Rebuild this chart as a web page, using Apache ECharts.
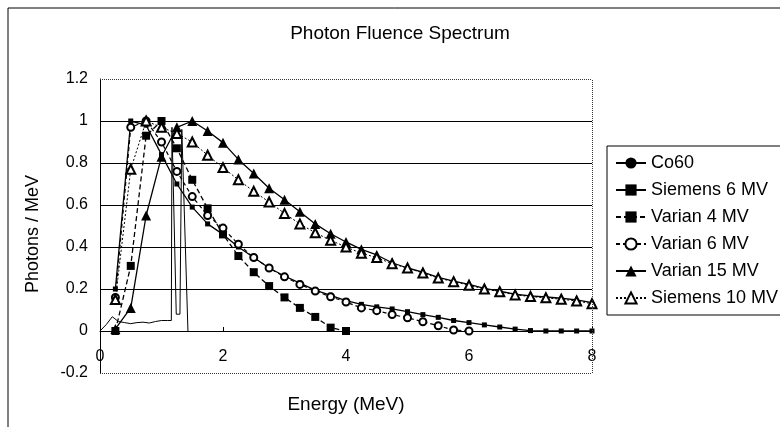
<!DOCTYPE html>
<html>
<head>
<meta charset="utf-8">
<script src="https://cdn.jsdelivr.net/npm/echarts@6/dist/echarts.min.js"></script>
<style>
html,body{margin:0;padding:0;background:#fff;}
#chart{width:780px;height:427px;}
</style>
</head>
<body>
<div id="chart"></div>
<script>
// ---- data ----
const energy = [0.25,0.5,0.75,1,1.25,1.5,1.75,2,2.25,2.5,2.75,3,3.25,3.5,3.75,4,4.25,4.5,4.75,5,5.25,5.5,5.75,6,6.25,6.5,6.75,7,7.25,7.5,7.75,8];
const co60Energy = [0,0.1,0.2,0.3,0.4,0.5,0.6,0.7,0.8,0.9,1.0,1.1,1.16,1.17,1.2,1.24,1.3,1.33,1.36,1.43];
const co60 = [0,0.03,0.068,0.045,0.04,0.035,0.04,0.042,0.038,0.045,0.05,0.05,0.05,0.97,0.97,0.08,0.08,0.96,0.96,0];
const siemens6 = [0.20,1.00,0.98,0.84,0.70,0.59,0.51,0.46,0.40,0.35,0.30,0.262,0.228,0.195,0.17,0.145,0.127,0.115,0.105,0.092,0.078,0.065,0.05,0.04,0.029,0.019,0.009,0.002,0,0,0,0];
const varian4 = [0,0.31,0.93,1.0,0.87,0.72,0.584,0.46,0.357,0.28,0.214,0.16,0.11,0.067,0.016,0];
const varian6 = [0.16,0.97,1.0,0.90,0.76,0.64,0.55,0.49,0.413,0.35,0.30,0.258,0.222,0.19,0.163,0.138,0.11,0.097,0.078,0.063,0.044,0.025,0.005,0];
const varian15 = [0.01,0.11,0.55,0.83,0.97,1.0,0.952,0.897,0.817,0.75,0.68,0.625,0.568,0.51,0.463,0.424,0.389,0.362,0.325,0.30,0.28,0.255,0.238,0.222,0.203,0.19,0.175,0.167,0.162,0.156,0.148,0.135];
const siemens10 = [0.15,0.77,1.0,0.97,0.94,0.90,0.837,0.778,0.72,0.665,0.614,0.56,0.51,0.468,0.432,0.40,0.37,0.35,0.32,0.30,0.276,0.252,0.235,0.218,0.2,0.187,0.172,0.164,0.158,0.151,0.143,0.13];
const seriesNames = ['Co60','Siemens 6 MV','Varian 4 MV','Varian 6 MV','Varian 15 MV','Siemens 10 MV'];
const xTicks = {min:0, max:8, step:2};
const yTicks = {min:-0.2, max:1.2, step:0.2};
const titleText = 'Photon Fluence Spectrum';
const xName = 'Energy (MeV)';
const yName = 'Photons / MeV';

function pairs(xs, ys){ return ys.map((v,i)=>[xs[i], v]); }

const FONT = 'Liberation Sans';
const chart = echarts.init(document.getElementById('chart'), null, {renderer:'canvas'});

const common = {type:'line', color:'#000', animation:false, smooth:false, xAxisIndex:0, yAxisIndex:0};
const option = {
  backgroundColor:'#fff',
  animation:false,
  textStyle:{fontFamily:FONT, color:'#000'},
  title:{text:titleText, left:395, textAlign:'center', top:19,
    textStyle:{fontFamily:FONT, fontSize:19, fontWeight:'normal', color:'#000'}},
  grid:{left:100, right:188, top:79, bottom:54, containLabel:false},
  legend:{
    orient:'vertical', left:607, top:146,
    padding:[8,10,8,8], itemGap:9, itemWidth:30, itemHeight:14,
    borderColor:'#000', borderWidth:1, backgroundColor:'#fff',
    textStyle:{fontFamily:FONT, fontSize:18, color:'#000', lineHeight:17},
    data:seriesNames
  },
  graphic:[{type:'rect', shape:{x:8,y:8,width:800,height:440}, style:{fill:'none', stroke:'#000', lineWidth:1}, silent:true, z:-1}],
  xAxis:[
    {type:'value', min:xTicks.min, max:xTicks.max, interval:xTicks.step, position:'bottom',
    name:xName, nameLocation:'middle', nameGap:22,
    nameTextStyle:{fontFamily:FONT, fontSize:19, color:'#000'},
    axisLine:{show:false, onZero:false},
    axisTick:{show:false},
    axisLabel:{margin:-24, fontFamily:FONT, fontSize:16, color:'#000'},
    splitLine:{show:false}},
    {type:'value', min:xTicks.min, max:xTicks.max, interval:xTicks.step, position:'top',
    axisLine:{show:true, onZero:true, lineStyle:{color:'#000', width:1}},
    axisTick:{show:true, inside:false, length:4, lineStyle:{color:'#000'}},
    axisLabel:{show:false},
    splitLine:{show:false}}
  ],
  yAxis:{type:'value', min:yTicks.min, max:yTicks.max, interval:yTicks.step,
    name:yName, nameLocation:'middle', nameRotate:90, nameGap:58,
    nameTextStyle:{fontFamily:FONT, fontSize:18, color:'#000', padding:[0,16,0,0]},
    axisLine:{show:true, onZero:false, lineStyle:{color:'#000', width:1}},
    axisTick:{show:false},
    axisLabel:{margin:12, fontFamily:FONT, fontSize:16, color:'#000'},
    splitLine:{show:true, showMinLine:false, showMaxLine:false, lineStyle:{color:'#000', width:1}}},
  series:[
    Object.assign({}, common, {name:seriesNames[0], data:pairs(co60Energy, co60), showSymbol:false, symbol:'none',
      lineStyle:{color:'#000', width:1},
      markLine:{silent:true, symbol:'none', label:{show:false}, animation:false,
        lineStyle:{color:'#333', type:'dotted', width:1},
        data:[{yAxis:yTicks.min},{yAxis:yTicks.max},{xAxis:xTicks.max}]}}),
    Object.assign({}, common, {name:seriesNames[1], data:pairs(energy, siemens6), symbol:'rect', symbolSize:5,
      itemStyle:{color:'#000'}, lineStyle:{color:'#000', width:1.3}}),
    Object.assign({}, common, {name:seriesNames[2], data:pairs(energy, varian4), symbol:'rect', symbolSize:8,
      itemStyle:{color:'#000'}, lineStyle:{color:'#000', width:1.3, type:[5,3]}}),
    Object.assign({}, common, {name:seriesNames[3], data:pairs(energy, varian6), symbol:'emptyCircle', symbolSize:7,
      itemStyle:{color:'#000', borderWidth:1.2}, lineStyle:{color:'#000', width:1.2, type:[4,3]}}),
    Object.assign({}, common, {name:seriesNames[4], data:pairs(energy, varian15), symbol:'triangle', symbolSize:10,
      itemStyle:{color:'#000'}, lineStyle:{color:'#000', width:1.3}}),
    Object.assign({}, common, {name:seriesNames[5], data:pairs(energy, siemens10), symbol:'emptyTriangle', symbolSize:9,
      itemStyle:{color:'#000', borderWidth:1}, lineStyle:{color:'#000', width:1, type:[2,2]}})
  ]
};
chart.setOption(option);
</script>
</body>
</html>
